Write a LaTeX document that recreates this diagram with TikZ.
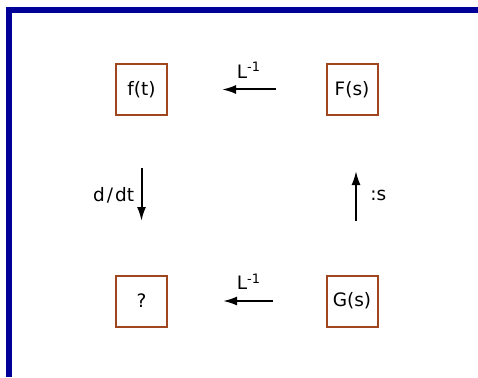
\documentclass[tikz,border=0pt]{standalone}
\usepackage{fontspec}
\setmainfont{DejaVu Sans}
\usepackage{xcolor}
\usetikzlibrary{arrows.meta}
\usetikzlibrary{math}

\definecolor{framenavy}{RGB}{0,0,153}
\definecolor{boxbrown}{RGB}{160,70,30}

\tikzset{
  fbox/.style={draw=boxbrown, line width=2pt, minimum size=51pt, inner sep=0pt, font=\fontsize{18.5}{22}\selectfont},
  tarrow/.style={-{Latex[length=14pt,width=9pt]}, line width=2pt},
  lbl/.style={font=\fontsize{18.5}{22}\selectfont},
}

\begin{document}
\begin{tikzpicture}[x=1pt,y=-1pt]
\tikzmath{
\xl=141.5;
\xr=352;
\yt=89.5;
\yb=301;
}
\useasboundingbox (0,0) rectangle (478,377);

% frame
\draw[framenavy, line width=6pt] (9,377) -- (9,10.3) -- (478,10.3);

\node[fbox] (ft) at (\xl,\yt) {f(t)};
\node[fbox] (Fs) at (\xr,\yt) {F(s)};
\node[fbox] (qu) at (\xl,\yb) {?};
\node[fbox] (Gs) at (\xr,\yb) {G(s)};

\draw[tarrow, shorten <=50pt, shorten >=54pt] (Fs) -- (ft) node[midway,above=7pt,xshift=2pt,lbl]{L\textsuperscript{-1}};
\draw[tarrow, shorten <=52pt, shorten >=53.5pt] (ft) -- (qu) node[midway,left=3pt,lbl]{d\kern2pt/\kern2pt dt};
\draw[tarrow, shorten <=53.5pt, shorten >=55pt] ([xshift=4pt]Gs.north) -- ([xshift=4pt]Fs.south) node[midway,right=10pt,lbl]{:s};
\draw[tarrow, shorten <=52.5pt, shorten >=55pt] (Gs) -- (qu) node[midway,above=7pt,xshift=2pt,lbl]{L\textsuperscript{-1}};

\end{tikzpicture}
\end{document}
